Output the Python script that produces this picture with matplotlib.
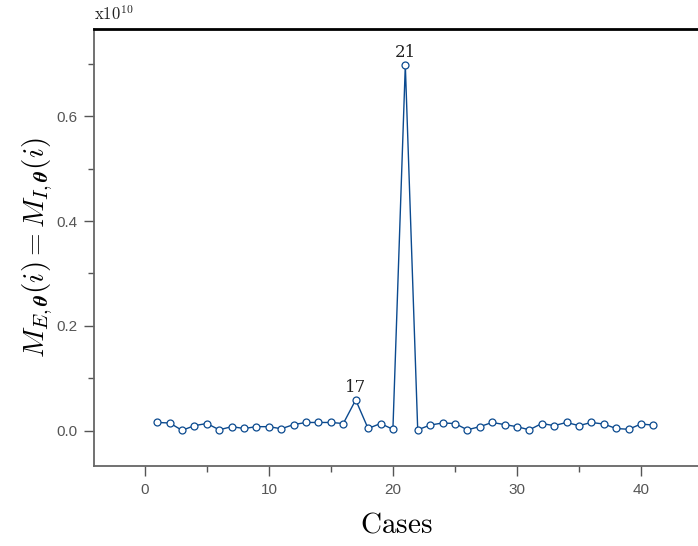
import matplotlib
matplotlib.use("Agg")
import matplotlib.pyplot as plt
import numpy as np
from matplotlib.ticker import MultipleLocator

plt.rcParams["mathtext.fontset"] = "cm"

# values in units of 1e10
cases = np.arange(1, 42)
values = [
    0.016, 0.015, 0.001, 0.010, 0.014, 0.002, 0.008, 0.0045, 0.008, 0.008,
    0.004, 0.012, 0.016, 0.016, 0.016, 0.014, 0.059, 0.0045, 0.014, 0.003,
    0.697, 0.002, 0.011, 0.015, 0.014, 0.002, 0.008, 0.016, 0.012, 0.008,
    0.002, 0.014, 0.010, 0.016, 0.010, 0.016, 0.013, 0.0045, 0.003, 0.013,
    0.011,
]
labelled_cases = [17, 21]

line_color = "#0b4a8f"
grey = "#555555"

fig = plt.figure(figsize=(6.98, 5.46), dpi=100)
ax = fig.add_axes([0.1347, 0.1465, 0.8653, 0.8004])

ax.plot(cases, values, color=line_color, lw=1.0, marker="o", ms=5,
        mfc="white", mec=line_color, mew=0.9)

for case in labelled_cases:
    ax.annotate(str(case), (case, values[case - 1]), xytext=(0, 3),
                textcoords="offset points", ha="center", va="bottom",
                fontsize=12, family="DejaVu Serif", color="#222222")

ax.set_xlim(-4.1, 44.6)
ax.set_ylim(-0.067, 0.766)
ax.xaxis.set_major_locator(MultipleLocator(10))
ax.xaxis.set_minor_locator(MultipleLocator(5))
ax.yaxis.set_major_locator(MultipleLocator(0.2))
ax.yaxis.set_minor_locator(MultipleLocator(0.1))
ax.yaxis.set_major_formatter(plt.FuncFormatter(lambda v, p: f"{v:.1f}"))

ax.tick_params(which="both", direction="out", color=grey, labelcolor="#555555",
               labelsize=11, width=1.0)
ax.tick_params(which="major", length=7, pad=5)
ax.tick_params(which="minor", length=4)
for lab in ax.get_xticklabels() + ax.get_yticklabels():
    lab.set_family("Liberation Sans")

ax.spines["right"].set_visible(False)
ax.spines["left"].set_color("#666666")
ax.spines["bottom"].set_color("#666666")
ax.spines["left"].set_linewidth(1.3)
ax.spines["bottom"].set_linewidth(1.3)
ax.spines["top"].set_color("black")
ax.spines["top"].set_linewidth(2.0)

ax.set_xlabel(r"$\mathrm{Cases}$", fontsize=21, labelpad=10)
ax.set_ylabel(r"$M_{E,\boldsymbol{\theta}}(i) = M_{I,\boldsymbol{\theta}}(i)$",
              fontsize=21, labelpad=1)

ax.text(0.0, 1.012, r"$\mathrm{x10}^{10}$", transform=ax.transAxes, ha="left",
        va="bottom", fontsize=12, color="#222222")

fig.savefig("out.png", dpi=100)
